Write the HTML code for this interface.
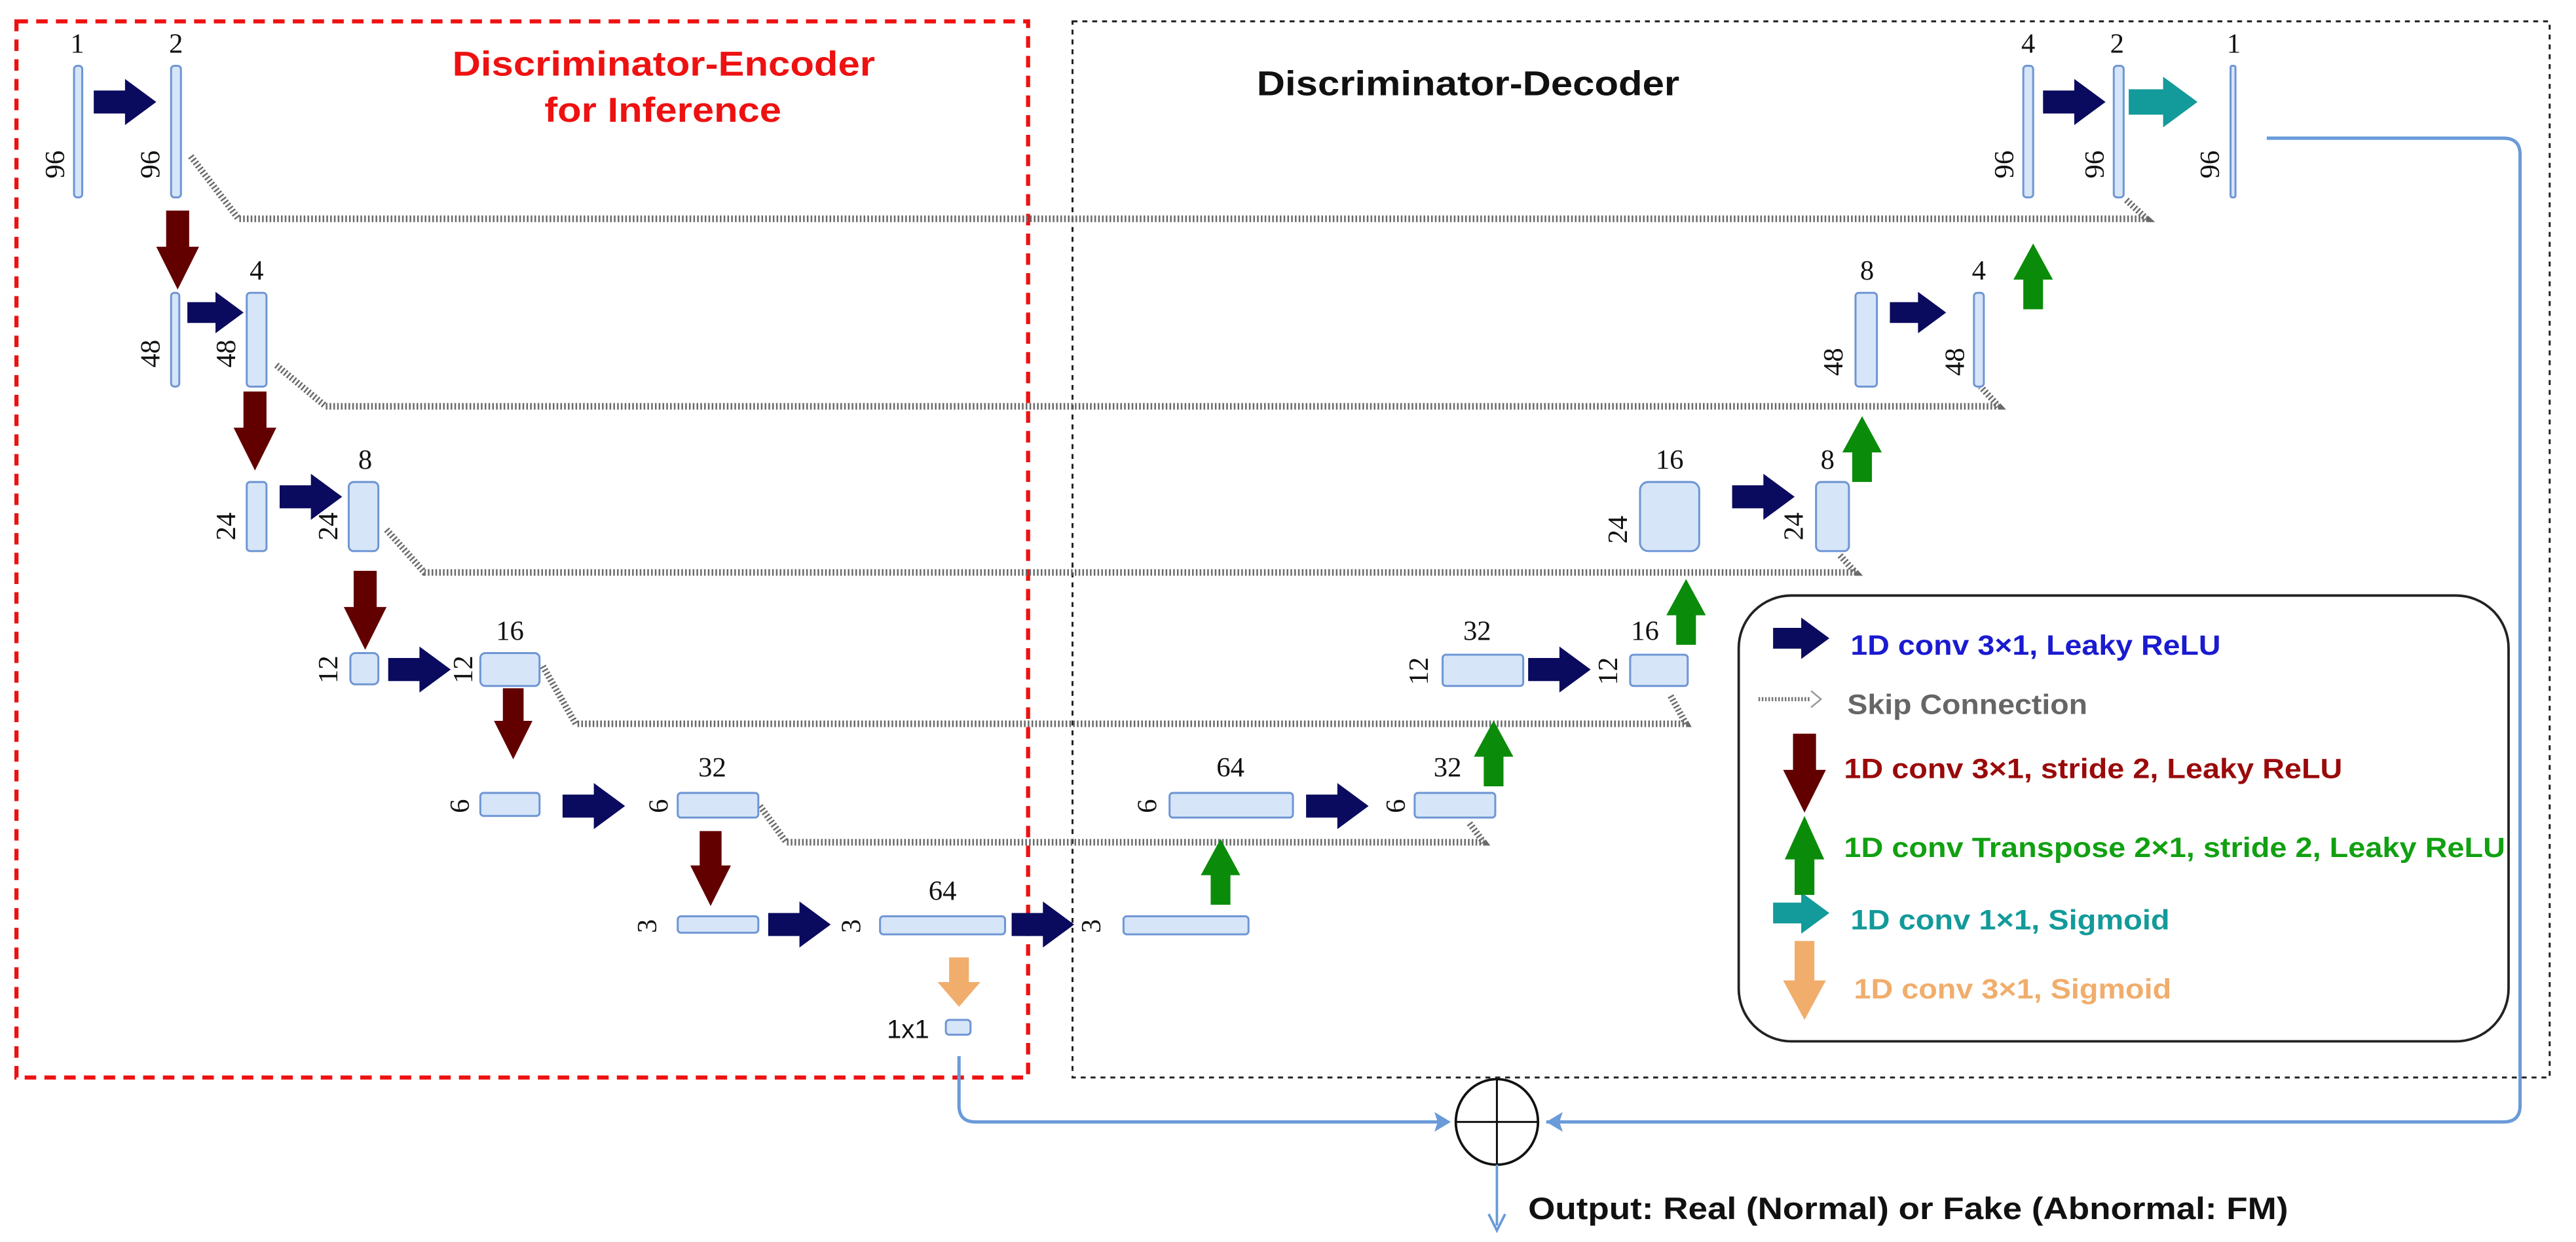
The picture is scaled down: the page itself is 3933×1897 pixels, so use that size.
<!DOCTYPE html>
<html><head><meta charset="utf-8"><style>
html,body{margin:0;padding:0;background:#fff}
svg{display:block}
.n{font-family:"Liberation Serif",serif;font-size:17px;fill:#111;text-anchor:middle}
.b{fill:#d6e5f8;stroke:#6f96d4;stroke-width:1.2}
.sk{fill:none;stroke:#6a6a6a;stroke-width:4;stroke-dasharray:1 1.3}
.t{font-family:"Liberation Sans",sans-serif;font-weight:bold}
</style></head><body>
<svg width="3933" height="1897" viewBox="0 0 1566 755" preserveAspectRatio="none" xmlns="http://www.w3.org/2000/svg">
<defs>
<path id="ar" d="M-19,-7 H0 V-14 L19,0 L0,14 V7 H-19 Z"/>
<path id="ad" d="M-7,-24 H7 V-2 H13 L0,24 L-13,-2 H-7 Z"/>
<path id="au" d="M-6,20 H6 V2 H12 L0,-20 L-12,2 H-6 Z"/>
<path id="ao" d="M-6,-15 H6 V0 H13 L0,15 L-13,0 H-6 Z"/>
</defs>
<rect x="10" y="13" width="615" height="642" fill="none" stroke="#ee1111" stroke-width="2.5" stroke-dasharray="7 5"/>
<rect x="652" y="13" width="898" height="642" fill="none" stroke="#222" stroke-width="1.2" stroke-dasharray="3 3"/>
<text class="t" x="275" y="46" font-size="21" fill="#ee1111" textLength="257" lengthAdjust="spacingAndGlyphs">Discriminator-Encoder</text>
<text class="t" x="331" y="74" font-size="21" fill="#ee1111" textLength="144" lengthAdjust="spacingAndGlyphs">for Inference</text>
<text class="t" x="764" y="58" font-size="21" fill="#111" textLength="257" lengthAdjust="spacingAndGlyphs">Discriminator-Decoder</text>

<polyline class="sk" points="116,95 145,133 1305,133 1292,121"/>
<polyline class="sk" points="168,222 198,247 1215,247 1204,235"/>
<polyline class="sk" points="235,322 258,348 1128,348 1118,337"/>
<polyline class="sk" points="330,405 350,440 1025,440 1015,422"/>
<polyline class="sk" points="462,490 478,512 902,512 893,500"/>

<rect class="b" x="45" y="40" width="5" height="80" rx="2"/>
<rect class="b" x="104" y="40" width="6" height="80" rx="2"/>
<rect class="b" x="104" y="178" width="5" height="57" rx="2"/>
<rect class="b" x="150" y="178" width="12" height="57" rx="2"/>
<rect class="b" x="150" y="293" width="12" height="42" rx="2"/>
<rect class="b" x="212" y="293" width="18" height="42" rx="3"/>
<rect class="b" x="213" y="397" width="17" height="19" rx="3"/>
<rect class="b" x="292" y="397" width="36" height="20" rx="3"/>
<rect class="b" x="292" y="482" width="36" height="14" rx="2"/>
<rect class="b" x="412" y="482" width="49" height="15" rx="2"/>
<rect class="b" x="412" y="557" width="49" height="10" rx="2"/>
<rect class="b" x="535" y="557" width="76" height="11" rx="2"/>
<rect class="b" x="575" y="620" width="15" height="9" rx="2"/>
<rect class="b" x="683" y="557" width="76" height="11" rx="2"/>
<rect class="b" x="711" y="482" width="75" height="15" rx="2"/>
<rect class="b" x="860" y="482" width="49" height="15" rx="2"/>
<rect class="b" x="877" y="398" width="49" height="19" rx="2"/>
<rect class="b" x="991" y="398" width="35" height="19" rx="2"/>
<rect class="b" x="997" y="293" width="36" height="42" rx="5"/>
<rect class="b" x="1104" y="293" width="20" height="42" rx="3"/>
<rect class="b" x="1128" y="178" width="13" height="57" rx="2"/>
<rect class="b" x="1200" y="178" width="6" height="57" rx="2"/>
<rect class="b" x="1230" y="40" width="6" height="80" rx="2"/>
<rect class="b" x="1285" y="40" width="6" height="80" rx="2"/>
<rect class="b" x="1356" y="40" width="3" height="80" rx="1"/>

<g class="n">
<text x="47" y="32">1</text><text x="107" y="32">2</text>
<text x="156" y="170">4</text><text x="222" y="285">8</text>
<text x="310" y="389">16</text><text x="433" y="472">32</text><text x="573" y="547">64</text>
<text x="748" y="472">64</text><text x="880" y="472">32</text>
<text x="898" y="389">32</text><text x="1000" y="389">16</text>
<text x="1015" y="285">16</text><text x="1111" y="285">8</text>
<text x="1135" y="170">8</text><text x="1203" y="170">4</text>
<text x="1233" y="32">4</text><text x="1287" y="32">2</text><text x="1358" y="32">1</text>
</g>
<g class="n">
<text transform="translate(39,100) rotate(-90)">96</text>
<text transform="translate(97,100) rotate(-90)">96</text>
<text transform="translate(97,215) rotate(-90)">48</text>
<text transform="translate(143,215) rotate(-90)">48</text>
<text transform="translate(143,320) rotate(-90)">24</text>
<text transform="translate(205,320) rotate(-90)">24</text>
<text transform="translate(205,407) rotate(-90)">12</text>
<text transform="translate(287,407) rotate(-90)">12</text>
<text transform="translate(285,490) rotate(-90)">6</text>
<text transform="translate(406,490) rotate(-90)">6</text>
<text transform="translate(399,563) rotate(-90)">3</text>
<text transform="translate(523,563) rotate(-90)">3</text>
<text transform="translate(669,563) rotate(-90)">3</text>
<text transform="translate(703,490) rotate(-90)">6</text>
<text transform="translate(854,490) rotate(-90)">6</text>
<text transform="translate(868,408) rotate(-90)">12</text>
<text transform="translate(983,408) rotate(-90)">12</text>
<text transform="translate(989,322) rotate(-90)">24</text>
<text transform="translate(1096,320) rotate(-90)">24</text>
<text transform="translate(1120,220) rotate(-90)">48</text>
<text transform="translate(1194,220) rotate(-90)">48</text>
<text transform="translate(1224,100) rotate(-90)">96</text>
<text transform="translate(1279,100) rotate(-90)">96</text>
<text transform="translate(1349,100) rotate(-90)">96</text>
</g>
<text x="552" y="631" font-family="Liberation Sans,sans-serif" font-size="16" fill="#111" text-anchor="middle">1x1</text>

<g fill="#0a0a5e">
<use href="#ar" transform="translate(76,62)"/>
<use href="#ar" transform="translate(131,190) scale(0.9)"/>
<use href="#ar" transform="translate(189,302)"/>
<use href="#ar" transform="translate(255,407)"/>
<use href="#ar" transform="translate(361,490)"/>
<use href="#ar" transform="translate(486,562)"/>
<use href="#ar" transform="translate(634,562)"/>
<use href="#ar" transform="translate(813,490)"/>
<use href="#ar" transform="translate(948,407)"/>
<use href="#ar" transform="translate(1072,302)"/>
<use href="#ar" transform="translate(1166,190) scale(0.9)"/>
<use href="#ar" transform="translate(1261,62)"/>
<use href="#ar" transform="translate(1095,388) scale(0.9)"/>
</g>
<g fill="#139a9a">
<use href="#ar" transform="translate(1315,62) scale(1.1)"/>
<use href="#ar" transform="translate(1095,555) scale(0.9)"/>
</g>
<g fill="#620000">
<use href="#ad" transform="translate(108,152)"/>
<use href="#ad" transform="translate(155,262)"/>
<use href="#ad" transform="translate(222,371)"/>
<use href="#ad" transform="translate(312,440) scale(0.9)"/>
<use href="#ad" transform="translate(432,528) scale(0.95)"/>
<use href="#ad" transform="translate(1097,470)"/>
</g>
<g fill="#0a8c0a">
<use href="#au" transform="translate(742,530)"/>
<use href="#au" transform="translate(908,458)"/>
<use href="#au" transform="translate(1025,372)"/>
<use href="#au" transform="translate(1132,273)"/>
<use href="#au" transform="translate(1236,168)"/>
<use href="#au" transform="translate(1097,520) scale(1,1.2)"/>
</g>
<g fill="#f0ad6c">
<use href="#ao" transform="translate(583,597)"/>
<use href="#ao" transform="translate(1097,596) scale(1,1.6)"/>
</g>

<rect x="1057" y="362" width="468" height="271" rx="32" fill="none" stroke="#222" stroke-width="1.5"/>
<g class="t" font-size="17">
<text x="1125" y="398" fill="#1a1ad0" textLength="225" lengthAdjust="spacingAndGlyphs">1D conv 3×1, Leaky ReLU</text>
<text x="1123" y="434" fill="#666" textLength="146" lengthAdjust="spacingAndGlyphs">Skip Connection</text>
<text x="1121" y="473" fill="#9a0a0a" textLength="303" lengthAdjust="spacingAndGlyphs">1D conv 3×1, stride 2, Leaky ReLU</text>
<text x="1121" y="521" fill="#11a011" textLength="402" lengthAdjust="spacingAndGlyphs">1D conv Transpose 2×1, stride 2, Leaky ReLU</text>
<text x="1125" y="565" fill="#139a9a" textLength="194" lengthAdjust="spacingAndGlyphs">1D conv 1×1, Sigmoid</text>
<text x="1127" y="607" fill="#f0ad6c" textLength="193" lengthAdjust="spacingAndGlyphs">1D conv 3×1, Sigmoid</text>
</g>
<line x1="1069" y1="425" x2="1101" y2="425" stroke="#777" stroke-width="2.5" stroke-dasharray="1 1"/>
<path d="M1101,420 L1107,425 L1101,430" fill="none" stroke="#999" stroke-width="1"/>

<path d="M1378,84 H1522 Q1532,84 1532,94 V672 Q1532,682 1522,682 H940" fill="none" stroke="#6a9ad8" stroke-width="2"/>
<path d="M940,682 L950,676 L948,682 L950,688 Z" fill="#6a9ad8"/>
<path d="M583,642 V672 Q583,682 593,682 H880" fill="none" stroke="#6a9ad8" stroke-width="2"/>
<path d="M882,682 L872,676 L874,682 L872,688 Z" fill="#6a9ad8"/>
<ellipse cx="910" cy="682" rx="25" ry="26" fill="none" stroke="#111" stroke-width="1.5"/>
<line x1="910" y1="656" x2="910" y2="708" stroke="#111" stroke-width="1.2"/>
<line x1="885" y1="682" x2="935" y2="682" stroke="#111" stroke-width="1.2"/>
<line x1="910" y1="708" x2="910" y2="745" stroke="#6a9ad8" stroke-width="1.5"/>
<path d="M905,738 L910,748 L915,738" fill="none" stroke="#6a9ad8" stroke-width="1.5"/>
<text class="t" x="929" y="741" font-size="19" fill="#111" textLength="462" lengthAdjust="spacingAndGlyphs">Output: Real (Normal) or Fake (Abnormal: FM)</text>
</svg>
</body></html>
